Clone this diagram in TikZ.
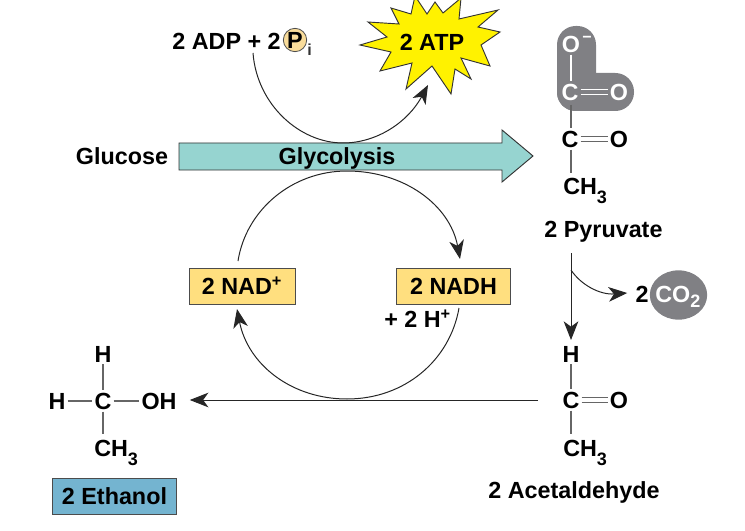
\documentclass[tikz,border=0pt]{standalone}
\usepackage{fontspec}
\setmainfont{Liberation Sans}
\usetikzlibrary{arrows.meta,calc,shapes.geometric}
\definecolor{teal1}{HTML}{96D4D0}
\definecolor{yel1}{HTML}{FFDF7F}
\definecolor{blue1}{HTML}{74B4D0}
\definecolor{gray1}{HTML}{808084}
\definecolor{star1}{HTML}{FFF200}
\definecolor{pcol}{HTML}{F9DC9A}
\newcommand{\lowsub}[2]{\raisebox{#1}{\fontsize{13.5pt}{14pt}\selectfont #2}}
\tikzset{
 lbl/.style={font=\fontsize{17.5pt}{19pt}\selectfont\bfseries,inner sep=0pt,text=black},
 lblw/.style={lbl,text=white},
 bondl/.style={draw=black!60,line width=0.9pt},
 bondw/.style={draw=white,line width=0.9pt},
 conn/.style={draw=black!85,line width=0.75pt},
 arr/.style={conn,-{Stealth[length=14pt,width=11pt,inset=4pt]}},
 box/.style={lbl,draw=black!70,line width=0.6pt,minimum height=27pt},
}
\begin{document}
\begin{tikzpicture}[x=0.75pt,y=-0.75pt]
\useasboundingbox (0,0) rectangle (745,531);
\path[clip] (0,0) rectangle (745,531);
% star
\draw[fill=star1,draw=black!80,line width=0.7pt] (360,45)--(387,37)--(368,22)--(399,24)--(391,8)--(411,14)--(415,-4)--(427,14)--(435,2)--(443,13)--(461,-2)--(459,19)--(498,10)--(478,27)--(500,32)--(481,45)--(490,66)--(461,58)--(471,79)--(455,69)--(451,94)--(432,66)--(406,89)--(412,63)--(380,71)--(391,52)--cycle;
\node[lbl] (atp) at (432,42) {2 ATP};
% arrow band
\draw[fill=teal1,draw=black!80,line width=0.7pt] (179,143)--(502,143)--(502,130)--(533,156)--(502,182)--(502,170)--(179,170)--cycle;
\node[lbl,anchor=base] (gly) at (337,165) {Glycolysis};
\node[lbl,anchor=base] (glu) at (122,164) {Glucose};
% top
\node[lbl,anchor=east] (adp) at (281,41) {2 ADP + 2};
\node[circle,draw=black!70,fill=pcol,line width=0.6pt,minimum size=17.5pt,inner sep=0pt,lbl] (p) at (295,40) {P};
\node[anchor=west,inner sep=0pt,font=\fontsize{12pt}{13pt}\selectfont\bfseries,text=black!80] (i) at (307,50) {i};
\coordinate (a1) at (253,53);
\coordinate (a2) at (428,85);
\draw[arr] (a1) .. controls (257,105) and (300,143) .. (343,143) .. controls (377,143) and (408,122) .. (a2);
% cycle
\node[box,fill=yel1,minimum width=79.5pt] (nad) at (242,286) {2 NAD\textsuperscript{+}};
\node[box,fill=yel1,minimum width=86pt] (nadh) at (453.5,286) {2 NADH\hspace{4pt}};
\coordinate (c1) at (238,261);
\coordinate (c2) at (460,259);
\coordinate (c3) at (459,308);
\coordinate (c4) at (237,309);
\draw[arr] (c1) .. controls (246,210) and (292,171) .. (347,171) .. controls (404,171) and (450,205) .. (c2);
\draw[arr] (c3) .. controls (450,360) and (405,399) .. (347,399) .. controls (292,399) and (248,365) .. (c4);
\node[lbl,anchor=west] (hp) at (384,319) {+ 2 H\textsuperscript{+}};
% pyruvate
\fill[gray1,rounded corners=14pt] (557,26) rectangle (596,111);
\fill[gray1,rounded corners=14pt] (557,73) rectangle (634,111);
\node[lblw] (o1) at (571,44) {O};
\node[lblw,anchor=west,font=\fontsize{12pt}{13pt}\selectfont\bfseries] (om) at (582,39) {−};
\node[lblw] (c1p) at (570,92) {C};
\node[lblw] (o2) at (619,92) {O};
\node[lbl] (c2p) at (570,139) {C};
\node[lbl] (o3) at (619,139) {O};
\node[lbl,anchor=base west] (ch3a) at (563,194) {CH\lowsub{-7pt}{3}};
\node[lbl,anchor=base] (pyr) at (603.5,237) {2 Pyruvate};
\draw[bondw] ($(o1.south)+(0,2)$) -- ($(c1p.north)+(1,-2)$);
\draw[bondw] ($(c1p.east)+(2,-2.5)$) -- ($(o2.west)+(-2,-2.5)$);
\draw[bondw] ($(c1p.east)+(2,2.5)$) -- ($(o2.west)+(-2,2.5)$);
\draw[bondl] (571,105) -- ($(c2p.north)+(1,-2)$);
\draw[bondl] ($(c2p.east)+(2,-2.5)$) -- ($(o3.west)+(-2,-2.5)$);
\draw[bondl] ($(c2p.east)+(2,2.5)$) -- ($(o3.west)+(-2,2.5)$);
\draw[bondl] ($(c2p.south)+(1,2)$) -- (571,173);
% CO2
\node[ellipse,fill=gray1,minimum width=43pt,minimum height=37pt,inner sep=0pt] (co) at (678.5,295) {};
\node[lblw,anchor=base west] (cot) at (655,302) {CO\lowsub{-4pt}{2}};
\node[lbl] (two) at (642,294) {2};
\coordinate (s1) at (571,253);
\coordinate (s2) at (571,340);
\coordinate (s3) at (571,270);
\draw[arr] (s1) -- (s2);
\draw[arr] (s3) .. controls (581,285) and (600,295) .. ($(two.west)+(-8,-1)$);
% acetaldehyde
\node[lbl] (ha) at (571,354) {H};
\node[lbl] (ca) at (571,400) {C};
\node[lbl] (oa) at (619,400) {O};
\node[lbl,anchor=base west] (ch3b) at (563,456) {CH\lowsub{-7pt}{3}};
\node[lbl,anchor=base] (ac) at (574,498) {2 Acetaldehyde};
\draw[bondl] ($(ha.south)+(0,2)$) -- ($(ca.north)+(0,-2)$);
\draw[bondl] ($(ca.east)+(2,-2.5)$) -- ($(oa.west)+(-2,-2.5)$);
\draw[bondl] ($(ca.east)+(2,2.5)$) -- ($(oa.west)+(-2,2.5)$);
\draw[bondl] ($(ca.south)+(0,2)$) -- (571,434);
% ethanol
\node[lbl] (he1) at (103,354) {H};
\node[lbl] (he2) at (57,401) {H};
\node[lbl] (ce) at (103,401) {C};
\node[lbl] (oh) at (159,401) {OH};
\node[lbl,anchor=base west] (ch3c) at (94,456) {CH\lowsub{-7pt}{3}};
\draw[bondl] ($(he1.south)+(0,2)$) -- ($(ce.north)+(0,-2)$);
\draw[bondl] ($(he2.east)+(2,0)$) -- ($(ce.west)+(-2,0)$);
\draw[bondl] ($(ce.east)+(2,0)$) -- ($(oh.west)+(-2,0)$);
\draw[bondl] ($(ce.south)+(0,2)$) -- (103,434);
\node[box,fill=blue1,minimum width=93.5pt] (eth) at (114.5,496.5) {2 Ethanol};
\coordinate (e1) at (538,400);
\draw[arr] (e1) -- ($(oh.east)+(13,-1)$);
\end{tikzpicture}
\end{document}
